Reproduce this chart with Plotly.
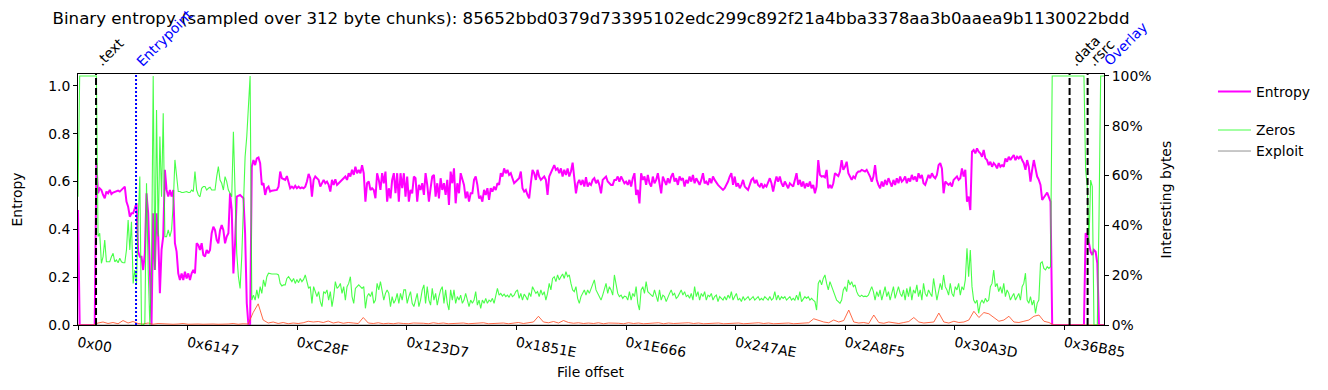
import plotly.graph_objects as go

TITLE = "Binary entropy (sampled over 312 byte chunks): 85652bbd0379d73395102edc299c892f21a4bba3378aa3b0aaea9b1130022bdd"
FILE_SIZE = 233100
TICK_LABELS = ["0x00", "0x6147", "0xC28F", "0x123D7", "0x1851E", "0x1E666", "0x247AE", "0x2A8F5", "0x30A3D", "0x36B85"]
SECTION_NAMES = [".text", "Entrypoint", ".data", ".rsrc", "Overlay"]
SECTION_OFFSETS = [0x1000, 0x3380, 0x37000, 0x38000, 233100]
SECTION_KIND = ["section", "entry", "section", "section", "overlay"]

ENTROPY = [
    0.481, 0, 0, 0, 0, 0, 0, 0, 0, 0, 0,
    0.677, 0.551, 0.572, 0.565, 0.544, 0.530, 0.558, 0.551, 0.565, 0.548,
    0.554, 0.557, 0.558, 0.562, 0.558, 0.565, 0.572, 0.579, 0.516, 0.495,
    0.453, 0.467, 0.467, 0.488, 0.509, 0.307, 0.286, 0.286, 0.230, 0.300,
    0.551, 0.467, 0.258, 0.0, 0.467, 0.230, 0.467, 0.370, 0.133, 0.314,
    0.370, 0.649, 0.565, 0.537, 0.565, 0.537, 0.565, 0.342, 0.307, 0.216,
    0.188, 0.216, 0.188, 0.223, 0.195, 0.216, 0.188, 0.216, 0.230, 0.216,
    0.342, 0.335, 0.314, 0.342, 0.293, 0.286, 0.314, 0.300, 0.314, 0.384,
    0.411, 0.397, 0.356, 0.342, 0.397, 0.418, 0.397, 0.342, 0.370, 0.384,
    0.551, 0.481, 0.216, 0.342, 0.537, 0.540, 0.544, 0.537, 0.530, 0.384,
    0.091, 0.0, 0.0,
    0.662, 0.690, 0.669, 0.697, 0.701, 0.677, 0.586, 0.593, 0.544, 0.572,
    0.579, 0.558, 0.562, 0.562, 0.565, 0.565, 0.579, 0.642, 0.614, 0.610,
    0.607, 0.623, 0.593, 0.572, 0.579, 0.572, 0.582, 0.572, 0.579, 0.572,
    0.576, 0.572, 0.579, 0.600, 0.632, 0.614, 0.537, 0.607, 0.621, 0.614,
    0.607, 0.579, 0.593, 0.607, 0.593, 0.600, 0.586, 0.558, 0.607, 0.586,
    0.610, 0.586, 0.593, 0.600, 0.607, 0.614, 0.621, 0.607, 0.635, 0.621,
    0.649, 0.628, 0.662, 0.635, 0.649, 0.635, 0.669, 0.635, 0.516, 0.593,
    0.600, 0.565, 0.572, 0.565, 0.530, 0.635, 0.607, 0.565, 0.635, 0.593,
    0.642, 0.516, 0.572, 0.530, 0.607, 0.635, 0.551, 0.635, 0.516, 0.635,
    0.572, 0.635, 0.537, 0.621, 0.516, 0.565, 0.551, 0.621, 0.614, 0.516,
    0.586, 0.565, 0.593, 0.544, 0.635, 0.586, 0.516, 0.572, 0.621, 0.628,
    0.537, 0.593, 0.530, 0.614, 0.565, 0.593, 0.544, 0.607, 0.502, 0.642,
    0.593, 0.655, 0.509, 0.593, 0.551, 0.635, 0.607, 0.586, 0.530, 0.558,
    0.516, 0.551,
    0.551, 0.607, 0.621, 0.586, 0.530, 0.537, 0.516, 0.565, 0.544, 0.572,
    0.523, 0.572, 0.558, 0.579, 0.565, 0.593, 0.586, 0.635, 0.621, 0.655,
    0.635, 0.649, 0.628, 0.635, 0.614, 0.593, 0.600, 0.607, 0.614, 0.642,
    0.572, 0.558, 0.565, 0.544, 0.530, 0.593, 0.649, 0.635, 0.607, 0.649,
    0.621, 0.607, 0.614, 0.621, 0.607, 0.544, 0.621, 0.635, 0.649, 0.669,
    0.649, 0.655, 0.635, 0.655, 0.621, 0.649, 0.628, 0.655, 0.621, 0.642,
    0.679, 0.607, 0.551, 0.593, 0.607, 0.586, 0.607, 0.579, 0.618, 0.579,
    0.593, 0.586, 0.607, 0.614, 0.593, 0.607, 0.586, 0.551, 0.607, 0.614,
    0.621, 0.600, 0.593, 0.586, 0.586, 0.607, 0.607, 0.621, 0.600, 0.621,
    0.607, 0.593, 0.600, 0.586, 0.607, 0.579, 0.614, 0.635, 0.544, 0.565,
    0.509, 0.635, 0.607, 0.621, 0.586, 0.628, 0.593, 0.579, 0.621, 0.593,
    0.607, 0.635, 0.593, 0.551, 0.621, 0.607, 0.586, 0.614, 0.593, 0.621,
    0.635, 0.600, 0.614, 0.586, 0.621, 0.607, 0.614, 0.579, 0.607,
    0.593, 0.621, 0.600, 0.628, 0.593, 0.614, 0.600, 0.586, 0.607, 0.635,
    0.593, 0.600, 0.586, 0.614, 0.593, 0.621, 0.607, 0.593, 0.586, 0.579,
    0.572, 0.565, 0.572, 0.586, 0.600, 0.621, 0.635, 0.586, 0.621, 0.579,
    0.593, 0.572, 0.586, 0.607, 0.579, 0.572, 0.565, 0.586, 0.607, 0.614,
    0.593, 0.607, 0.586, 0.579, 0.593, 0.572, 0.586, 0.579, 0.600, 0.614,
    0.593, 0.558, 0.593, 0.621, 0.600, 0.621, 0.593, 0.579, 0.600, 0.586,
    0.572, 0.593, 0.586, 0.579, 0.607, 0.635, 0.586, 0.607, 0.579, 0.600,
    0.572, 0.593, 0.579, 0.600, 0.572, 0.586, 0.551, 0.579, 0.690, 0.628,
    0.621, 0.623, 0.618, 0.649, 0.572, 0.586, 0.572, 0.593, 0.635, 0.628,
    0.623, 0.642, 0.690, 0.649, 0.662, 0.683, 0.635, 0.621, 0.607, 0.621,
    0.614, 0.635, 0.642, 0.642, 0.649, 0.646, 0.642, 0.649, 0.635, 0.621,
    0.600, 0.621, 0.669, 0.607, 0.586, 0.572, 0.600, 0.579, 0.607, 0.586,
    0.614, 0.593, 0.579, 0.607, 0.586, 0.614, 0.593, 0.621, 0.600,
    0.607, 0.621, 0.593, 0.614, 0.600, 0.628, 0.607, 0.621, 0.600, 0.635,
    0.614, 0.628, 0.593, 0.586, 0.607, 0.628, 0.614, 0.635, 0.621, 0.614,
    0.628, 0.669, 0.677, 0.655, 0.551, 0.600, 0.593, 0.586, 0.593, 0.579,
    0.607, 0.614, 0.621, 0.607, 0.614, 0.655, 0.621, 0.649, 0.516, 0.537,
    0.481, 0.725, 0.732, 0.718, 0.739, 0.725, 0.718, 0.704, 0.732, 0.697,
    0.690, 0.669, 0.683, 0.662, 0.677, 0.669, 0.655, 0.677, 0.662, 0.669,
    0.662, 0.697, 0.683, 0.704, 0.690, 0.701, 0.711, 0.690, 0.704, 0.697,
    0.707, 0.690, 0.677, 0.649, 0.690, 0.662, 0.600, 0.649, 0.690, 0.655,
    0.621, 0.607, 0.586, 0.523, 0.537, 0.544, 0.554, 0.537, 0.516, 0.0,
    0.0, 0.0, 0.0, 0.0, 0.0, 0.0, 0.0, 0.0, 0.0, 0.0,
    0.0, 0.0, 0.0, 0.0, 0.0, 0.0, 0.0, 0.0, 0.0,
    0.384, 0.377, 0.342, 0.307, 0.293, 0.314, 0.307, 0.258, 0.0, 0.0,
    0.0, 0.0,
]

ZEROS = [
    0.515, 1.0, 1.0, 1.0, 1.0, 1.0, 1.0, 1.0, 1.0, 1.0, 1.0, 1.0,
    0.355, 0.368, 0.248, 0.274, 0.341, 0.254, 0.254, 0.254, 0.274, 0.288,
    0.254, 0.261, 0.250, 0.268, 0.254, 0.250, 0.250, 0.301, 0.422, 0.301,
    0.415, 0.167, 0.221, 0.167, 0.422, 0.596, 0.0, 0.0, 0.007, 0.569,
    0.221, 0.0, 0.221, 1.0, 0.221, 0.863, 0.355, 0.757, 0.515, 0.850,
    0.355, 0.355, 0.382, 0.355, 0.382, 0.489, 0.663, 0.596, 0.536, 0.536,
    0.532, 0.532, 0.534, 0.536, 0.532, 0.532, 0.542, 0.536, 0.616, 0.542,
    0.522, 0.515, 0.549, 0.556, 0.556, 0.542, 0.549, 0.553, 0.542, 0.542,
    0.542, 0.596, 0.636, 0.582, 0.569, 0.542, 0.596, 0.576, 0.542, 0.529,
    0.515, 0.776, 0.489, 0.288, 0.194, 0.147, 0.274, 0.489, 0.676, 0.757,
    0.890, 1.0,
    0.100, 0.120, 0.100, 0.141, 0.107, 0.154, 0.127, 0.181, 0.154, 0.194,
    0.208, 0.205, 0.205, 0.205, 0.205, 0.205, 0.201, 0.167, 0.157, 0.161,
    0.161, 0.187, 0.194, 0.181, 0.174, 0.187, 0.167, 0.183, 0.170, 0.187,
    0.174, 0.183, 0.201, 0.174, 0.147, 0.154, 0.087, 0.154, 0.134, 0.114,
    0.134, 0.094, 0.074, 0.134, 0.127, 0.141, 0.100, 0.134, 0.074, 0.114,
    0.174, 0.147, 0.154, 0.167, 0.127, 0.154, 0.100, 0.154, 0.167, 0.194,
    0.114, 0.087, 0.147, 0.154, 0.161, 0.154, 0.147, 0.154, 0.067, 0.114,
    0.127, 0.114, 0.134, 0.087, 0.100, 0.167, 0.141, 0.174, 0.141, 0.100,
    0.127, 0.141, 0.127, 0.074, 0.114, 0.087, 0.100, 0.127, 0.087, 0.127,
    0.100, 0.141, 0.141, 0.087, 0.114, 0.134, 0.087, 0.074, 0.100, 0.127,
    0.074, 0.100, 0.141, 0.161, 0.087, 0.154, 0.100, 0.080, 0.147, 0.100,
    0.127, 0.080, 0.114, 0.141, 0.154, 0.087, 0.141, 0.087, 0.060, 0.141,
    0.100, 0.141, 0.087, 0.114, 0.100, 0.120, 0.087, 0.100, 0.127, 0.094,
    0.074, 0.100,
    0.087, 0.100, 0.134, 0.080, 0.100, 0.067, 0.100, 0.087, 0.107, 0.087,
    0.100, 0.094, 0.107, 0.087, 0.114, 0.147, 0.120, 0.127, 0.116, 0.124,
    0.114, 0.120, 0.111, 0.127, 0.114, 0.120, 0.134, 0.141, 0.107, 0.127,
    0.100, 0.124, 0.114, 0.100, 0.130, 0.114, 0.154, 0.141, 0.127, 0.134,
    0.114, 0.141, 0.120, 0.134, 0.100, 0.127, 0.167, 0.141, 0.187, 0.194,
    0.174, 0.201, 0.181, 0.194, 0.205, 0.187, 0.214, 0.194, 0.201, 0.167,
    0.141, 0.134, 0.154, 0.107, 0.087, 0.114, 0.127, 0.141, 0.120, 0.141,
    0.127, 0.147, 0.167, 0.181, 0.141, 0.127, 0.114, 0.100, 0.120, 0.141,
    0.167, 0.127, 0.154, 0.141, 0.120, 0.201, 0.161, 0.127, 0.114, 0.120,
    0.107, 0.116, 0.114, 0.100, 0.134, 0.100, 0.127, 0.114, 0.154, 0.087,
    0.060, 0.141, 0.154, 0.127, 0.174, 0.134, 0.127, 0.120, 0.114, 0.141,
    0.114, 0.094, 0.141, 0.100, 0.120, 0.114, 0.094, 0.114, 0.127, 0.141,
    0.120, 0.127, 0.107, 0.114, 0.127, 0.141, 0.120, 0.134, 0.114,
    0.120, 0.107, 0.127, 0.100, 0.154, 0.114, 0.134, 0.100, 0.127, 0.114,
    0.134, 0.100, 0.120, 0.114, 0.127, 0.100, 0.114, 0.120, 0.094, 0.114,
    0.107, 0.100, 0.114, 0.100, 0.120, 0.107, 0.134, 0.100, 0.114, 0.127,
    0.100, 0.107, 0.094, 0.114, 0.100, 0.107, 0.114, 0.100, 0.107, 0.114,
    0.100, 0.107, 0.114, 0.100, 0.107, 0.100, 0.114, 0.107, 0.100, 0.114,
    0.100, 0.107, 0.134, 0.100, 0.120, 0.100, 0.114, 0.107, 0.114, 0.100,
    0.107, 0.114, 0.100, 0.107, 0.100, 0.120, 0.100, 0.134, 0.094, 0.107,
    0.114, 0.107, 0.114, 0.100, 0.107, 0.100, 0.094, 0.060, 0.167, 0.181,
    0.161, 0.187, 0.201, 0.167, 0.141, 0.174, 0.154, 0.134, 0.114, 0.100,
    0.094, 0.087, 0.100, 0.141, 0.154, 0.134, 0.181, 0.161, 0.174, 0.154,
    0.161, 0.134, 0.120, 0.114, 0.120, 0.114, 0.116, 0.114, 0.120, 0.141,
    0.154, 0.134, 0.100, 0.134, 0.114, 0.141, 0.100, 0.127, 0.154, 0.114,
    0.134, 0.100, 0.127, 0.154, 0.107, 0.134, 0.154, 0.127, 0.114,
    0.141, 0.100, 0.147, 0.114, 0.154, 0.100, 0.141, 0.127, 0.161, 0.114,
    0.141, 0.100, 0.167, 0.127, 0.114, 0.141, 0.127, 0.114, 0.187, 0.141,
    0.100, 0.134, 0.167, 0.141, 0.201, 0.154, 0.141, 0.120, 0.167, 0.127,
    0.114, 0.154, 0.141, 0.167, 0.120, 0.154, 0.141, 0.181, 0.308, 0.194,
    0.301, 0.154, 0.100, 0.087, 0.100, 0.047, 0.087, 0.100, 0.087, 0.107,
    0.094, 0.100, 0.154, 0.167, 0.221, 0.154, 0.167, 0.134, 0.154, 0.127,
    0.167, 0.114, 0.141, 0.127, 0.100, 0.114, 0.127, 0.100, 0.114, 0.127,
    0.100, 0.154, 0.167, 0.208, 0.100, 0.087, 0.114, 0.080, 0.100, 0.047,
    0.087, 0.100, 0.248, 0.254, 0.227, 0.221, 0.234, 0.227, 0.234, 1.0,
    1.0, 1.0, 1.0, 1.0, 1.0, 1.0, 1.0, 1.0, 1.0, 1.0,
    1.0, 1.0, 1.0, 1.0, 1.0, 1.0, 1.0, 1.0, 1.0,
    0.622, 0.556, 0.328, 0.582, 0.556, 0.0, 0.0, 0.0, 0.422, 1.0,
    1.0, 1.0,
]

RED = [
    0, 0, 0, 0, 0.008, 0.012, 0.006, 0.010, 0.005, 0.018,
    0.008, 0.014, 0.006, 0.004, 0.008, 0.003, 0.006, 0.004, 0.005, 0.003,
    0.004, 0.006, 0.003, 0.005, 0.004, 0.003, 0.005, 0.004, 0.003, 0.005,
    0.004, 0.006, 0.003, 0.005, 0.004, 0.050, 0.085, 0.020, 0.008, 0.012,
    0.006, 0.010, 0.005, 0.008, 0.006, 0.009, 0.015, 0.012, 0.014, 0.010,
    0.016, 0.008, 0.012, 0.007, 0.010, 0.008, 0.006, 0.030, 0.008, 0.006,
    0.009, 0.005, 0.007, 0.005, 0.008, 0.006, 0.005, 0.008, 0.006, 0.007,
    0.005, 0.009, 0.006, 0.008, 0.005, 0.007, 0.006, 0.008, 0.005, 0.007,
    0.006, 0.009, 0.005, 0.007, 0.006, 0.008, 0.005, 0.007, 0.010, 0.006,
    0.008, 0.012, 0.035, 0.012, 0.009, 0.014, 0.008, 0.018, 0.010, 0.007,
    0.009, 0.006, 0.008, 0.006, 0.009, 0.005, 0.008, 0.006, 0.007, 0.005,
    0.009, 0.006, 0.008, 0.005, 0.007, 0.006, 0.009, 0.005, 0.008, 0.006,
    0.007, 0.005, 0.009, 0.006, 0.008, 0.005, 0.007, 0.006, 0.008, 0.005,
    0.007, 0.006, 0.008, 0.005, 0.007, 0.006, 0.009, 0.006, 0.008, 0.005,
    0.007, 0.006, 0.008, 0.005, 0.007, 0.006, 0.009, 0.025, 0.018, 0.012,
    0.009, 0.020, 0.012, 0.018, 0.060, 0.012, 0.008, 0.010, 0.006, 0.040,
    0.010, 0.007, 0.012, 0.008, 0.006, 0.010, 0.014, 0.030, 0.012, 0.008,
    0.010, 0.012, 0.048, 0.012, 0.008, 0.015, 0.010, 0.012, 0.020, 0.055,
    0.030, 0.050, 0.045, 0.030, 0.015, 0.020, 0.035, 0.012, 0.010, 0.015,
    0.020, 0.035, 0.040, 0.015, 0.010, 0, 0, 0, 0, 0,
    0, 0, 0, 0, 0, 0,
]

EXPLOIT = [0.0, 0.0, 0.0, 0.0, 0.0, 0.0, 0.0, 0.0, 0.0, 0.0, 0.0, 0.0]


def grid(n):
    return [i * FILE_SIZE / (n - 1) for i in range(n)]


FONT = "DejaVu Sans"
fig = go.Figure()
fig.add_trace(go.Scatter(x=grid(len(EXPLOIT)), y=EXPLOIT, yaxis="y2", mode="lines", name="Exploit",
                         line=dict(color="rgba(110,110,110,0.75)", width=1), legend="legend2"))
fig.add_trace(go.Scatter(x=grid(len(RED)), y=RED, yaxis="y2", mode="lines", name="",
                         line=dict(color="rgba(255,80,40,0.85)", width=1), showlegend=False, hoverinfo="skip"))
fig.add_trace(go.Scatter(x=grid(len(ZEROS)), y=ZEROS, yaxis="y2", mode="lines", name="Zeros",
                         line=dict(color="rgba(20,255,20,0.78)", width=1.1), legend="legend2"))
fig.add_trace(go.Scatter(x=grid(len(ENTROPY)), y=ENTROPY, yaxis="y", mode="lines", name="Entropy",
                         line=dict(color="#ff00ff", width=2), legend="legend"))

shapes = []
annotations = []
for name, off, kind in zip(SECTION_NAMES, SECTION_OFFSETS, SECTION_KIND):
    color = "black" if kind == "section" else "blue"
    if kind != "overlay":
        dash = "7px,3px" if kind == "section" else "2px,2px"
        shapes.append(dict(type="line", xref="x", yref="paper", x0=off, x1=off, y0=0, y1=1,
                           line=dict(color=color, width=2, dash=dash), layer="above"))
    annotations.append(dict(x=off, y=1, xref="x", yref="paper", text=name, showarrow=False,
                            textangle=-45, xanchor="left", yanchor="bottom", xshift=-6, yshift=2,
                            font=dict(family=FONT, size=13.9, color=color)))

annotations += [
    dict(text="Entropy", x=-0.0595, y=0.5, xref="paper", yref="paper", textangle=-90,
         showarrow=False, font=dict(family=FONT, size=13.9, color="black"), xanchor="center", yanchor="middle"),
    dict(text="Interesting bytes", x=1.0595, y=0.5, xref="paper", yref="paper", textangle=-90,
         showarrow=False, font=dict(family=FONT, size=13.9, color="black"), xanchor="center", yanchor="middle"),
    dict(text="File offset", x=0.5, y=-0.187, xref="paper", yref="paper",
         showarrow=False, font=dict(family=FONT, size=13.9, color="black"), xanchor="center", yanchor="middle"),
]

fig.update_layout(
    width=1320, height=382, autosize=False,
    margin=dict(l=70, r=224, t=66, b=65),
    paper_bgcolor="white", plot_bgcolor="white",
    font=dict(family=FONT, size=13.9, color="black"),
    title=dict(text=TITLE, x=0.5, xref="paper", y=1 - 10 / 382, yref="container",
               xanchor="center", yanchor="middle", font=dict(family=FONT, size=16.67, color="black")),
    xaxis=dict(range=[0, FILE_SIZE], tickvals=[int(t, 16) for t in TICK_LABELS], ticktext=TICK_LABELS,
               tickangle=10, ticks="outside", ticklen=4, tickwidth=1, tickcolor="black",
               showline=True, linecolor="black", linewidth=1, mirror=True, automargin=False,
               showgrid=False, zeroline=False, tickfont=dict(family=FONT, size=13.9)),
    yaxis=dict(range=[0, 1.05], tickvals=[0, 0.2, 0.4, 0.6, 0.8, 1.0],
               ticktext=["0.0", "0.2", "0.4", "0.6", "0.8", "1.0"],
               ticks="outside", ticklen=4, tickwidth=1, tickcolor="black", automargin=False,
               showline=True, linecolor="black", linewidth=1,
               showgrid=False, zeroline=False, tickfont=dict(family=FONT, size=13.9)),
    yaxis2=dict(range=[0, 1.008], overlaying="y", side="right", tickvals=[0, 0.2, 0.4, 0.6, 0.8, 1.0],
                ticktext=["0%", "20%", "40%", "60%", "80%", "100%"],
                ticks="outside", ticklen=4, tickwidth=1, tickcolor="black", automargin=False,
                showline=True, linecolor="black", linewidth=1,
                showgrid=False, zeroline=False, tickfont=dict(family=FONT, size=13.9)),
    legend=dict(x=1.1062, y=0.992, xanchor="left", yanchor="top", bgcolor="rgba(0,0,0,0)",
                font=dict(family=FONT, size=13.9), itemwidth=33),
    legend2=dict(x=1.1062, y=0.839, xanchor="left", yanchor="top", bgcolor="rgba(0,0,0,0)",
                 font=dict(family=FONT, size=13.9), itemwidth=33, traceorder="reversed"),
    shapes=shapes,
    annotations=annotations,
    showlegend=True,
)

fig.write_html("out.html")
